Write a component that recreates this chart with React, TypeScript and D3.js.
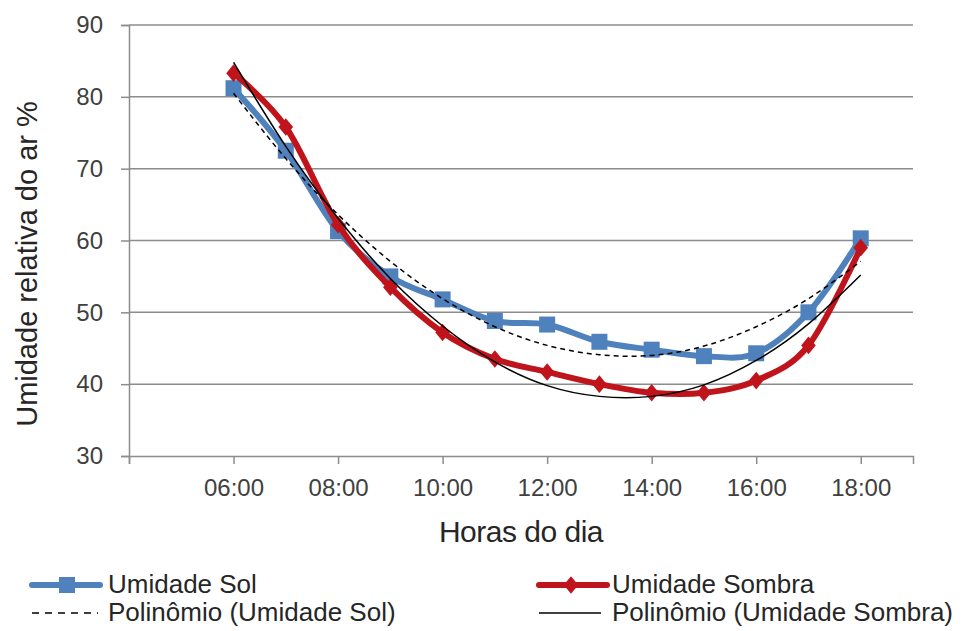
import React, { useEffect, useRef } from 'react';
import * as d3 from 'd3';

const hours = ['06:00', '07:00', '08:00', '09:00', '10:00', '11:00', '12:00', '13:00', '14:00', '15:00', '16:00', '17:00', '18:00'];
const umidadeSol = [81.2, 72.5, 61.3, 55.0, 51.8, 48.8, 48.3, 45.9, 44.8, 43.9, 44.3, 50.0, 60.3];
const umidadeSombra = [83.3, 75.8, 62.2, 53.5, 47.2, 43.5, 41.7, 40.0, 38.8, 38.8, 40.5, 45.4, 59.0];
// trendlines (polinômio) at each hour
const polySol = [80.5, 71.4, 63.6, 57.1, 51.9, 48.0, 45.4, 44.1, 44.0, 45.3, 48.0, 51.9, 57.1];
const polySombra = [84.8, 73.1, 63.1, 54.7, 48.1, 43.1, 39.8, 38.3, 38.3, 39.9, 43.3, 48.4, 55.2];
const xTickLabels = ['06:00', '08:00', '10:00', '12:00', '14:00', '16:00', '18:00'];
const yTicks = [30, 40, 50, 60, 70, 80, 90];

const W = 963;
const H = 631;
const BLUE = '#4f81bd';
const RED = '#c0141c';
const GRID = '#8c8c8c';
const FONT = '"Liberation Sans", Arial, sans-serif';

const hourOf = (s: string) => parseInt(s.slice(0, 2), 10);

export default function App() {
  const svgRef = useRef<SVGSVGElement>(null);

  useEffect(() => {
    if (!svgRef.current) return;
    const svg = d3.select(svgRef.current);
    svg.selectAll('*').remove();

    const x = d3.scaleLinear().domain([4, 19]).range([129, 913]);
    const y = d3.scaleLinear().domain([30, 90]).range([456, 25]);

    // gridlines
    svg.append('g')
      .selectAll('line')
      .data(yTicks.slice(1))
      .join('line')
      .attr('x1', x(4))
      .attr('x2', x(19))
      .attr('y1', d => y(d))
      .attr('y2', d => y(d))
      .attr('stroke', GRID)
      .attr('stroke-width', 1.5);

    // y axis
    const yAxis = svg.append('g').attr('transform', `translate(${x(4)},0)`)
      .call(d3.axisLeft(y).tickValues(yTicks).tickSize(8).tickPadding(18).tickFormat(d3.format('d')));
    yAxis.select('.domain').attr('stroke', GRID).attr('stroke-width', 1.5);
    yAxis.selectAll('.tick line').attr('stroke', GRID).attr('stroke-width', 1.5);
    yAxis.selectAll('.tick text')
      .attr('font-family', FONT)
      .attr('font-size', 24)
      .attr('fill', '#404040');

    // x axis
    const xAxis = svg.append('g').attr('transform', `translate(0,${y(30)})`)
      .call(d3.axisBottom(x).tickValues(d3.range(4, 19, 2)).tickSize(8).tickPadding(15)
        .tickFormat(d => (d === 4 ? '' : xTickLabels[(+d - 6) / 2])));
    xAxis.select('.domain').attr('stroke', GRID).attr('stroke-width', 1.5);
    xAxis.selectAll('.tick line').attr('stroke', GRID).attr('stroke-width', 1.5);
    xAxis.selectAll('.tick text')
      .attr('font-family', FONT)
      .attr('font-size', 24)
      .attr('fill', '#404040');

    // axis titles
    svg.append('text')
      .attr('x', 521)
      .attr('y', 542)
      .attr('text-anchor', 'middle')
      .attr('font-family', FONT)
      .attr('font-size', 30)
      .attr('letter-spacing', -0.5)
      .attr('fill', '#262626')
      .text('Horas do dia');

    svg.append('text')
      .attr('transform', `translate(37,264) rotate(-90)`)
      .attr('text-anchor', 'middle')
      .attr('font-family', FONT)
      .attr('font-size', 29)
      .attr('fill', '#262626')
      .text('Umidade relativa do ar %');

    const smooth = d3.line<number>()
      .x((_, i) => x(hourOf(hours[i])))
      .y(d => y(d))
      .curve(d3.curveCardinal.tension(0));

    const trend = d3.line<number>()
      .x((_, i) => x(hourOf(hours[i])))
      .y(d => y(d))
      .curve(d3.curveNatural);

    // Umidade Sol
    svg.append('path')
      .attr('d', smooth(umidadeSol))
      .attr('fill', 'none')
      .attr('stroke', BLUE)
      .attr('stroke-width', 6)
      .attr('stroke-linecap', 'round')
      .attr('stroke-linejoin', 'round');
    svg.append('g')
      .selectAll('rect')
      .data(umidadeSol)
      .join('rect')
      .attr('x', (_, i) => x(hourOf(hours[i])) - 8)
      .attr('y', d => y(d) - 8)
      .attr('width', 16)
      .attr('height', 16)
      .attr('fill', BLUE);

    // Umidade Sombra
    svg.append('path')
      .attr('d', smooth(umidadeSombra))
      .attr('fill', 'none')
      .attr('stroke', RED)
      .attr('stroke-width', 6)
      .attr('stroke-linecap', 'round')
      .attr('stroke-linejoin', 'round');
    const diamond = d3.symbol().type(d3.symbolDiamond2).size(150);
    svg.append('g')
      .selectAll('path')
      .data(umidadeSombra)
      .join('path')
      .attr('d', diamond as any)
      .attr('transform', (d, i) => `translate(${x(hourOf(hours[i]))},${y(d)}) scale(0.95,1.15)`)
      .attr('fill', RED);

    // trendlines
    svg.append('path')
      .attr('d', trend(polySol))
      .attr('fill', 'none')
      .attr('stroke', '#000')
      .attr('stroke-width', 1.5)
      .attr('stroke-dasharray', '5,4');
    svg.append('path')
      .attr('d', trend(polySombra))
      .attr('fill', 'none')
      .attr('stroke', '#000')
      .attr('stroke-width', 1.5);

    // legend
    const legend = [
      { label: 'Umidade Sol', x: 30, y: 585, kind: 'sol' },
      { label: 'Umidade Sombra', x: 537, y: 585, kind: 'sombra' },
      { label: 'Polinômio (Umidade Sol)', x: 30, y: 613, kind: 'polySol' },
      { label: 'Polinômio (Umidade Sombra)', x: 537, y: 613, kind: 'polySombra' },
    ];
    const lg = svg.append('g');
    legend.forEach(item => {
      const g = lg.append('g').attr('transform', `translate(${item.x},${item.y})`);
      if (item.kind === 'sol' || item.kind === 'sombra') {
        const c = item.kind === 'sol' ? BLUE : RED;
        g.append('line').attr('x1', 2).attr('x2', 70).attr('y1', 0).attr('y2', 0)
          .attr('stroke', c).attr('stroke-width', 6).attr('stroke-linecap', 'round');
        if (item.kind === 'sol') {
          g.append('rect').attr('x', 29).attr('y', -8).attr('width', 16).attr('height', 16).attr('fill', c);
        } else {
          g.append('path').attr('d', diamond as any)
            .attr('transform', 'translate(34,0) scale(0.95,1.15)').attr('fill', c);
        }
      } else {
        g.append('line').attr('x1', 2).attr('x2', item.kind === 'polySol' ? 68 : 64).attr('y1', 0).attr('y2', 0)
          .attr('stroke', '#000').attr('stroke-width', 1.5)
          .attr('stroke-dasharray', item.kind === 'polySol' ? '7,6' : null);
      }
      g.append('text')
        .attr('x', item.kind === 'sombra' || item.kind === 'polySombra' ? 75 : 78)
        .attr('y', 8)
        .attr('font-family', FONT)
        .attr('font-size', 26)
        .attr('fill', '#262626')
        .text(item.label);
    });
  }, []);

  return (
    <svg
      ref={svgRef}
      width={W}
      height={H}
      style={{ position: 'absolute', left: 0, top: 0, background: '#fff' }}
    />
  );
}
